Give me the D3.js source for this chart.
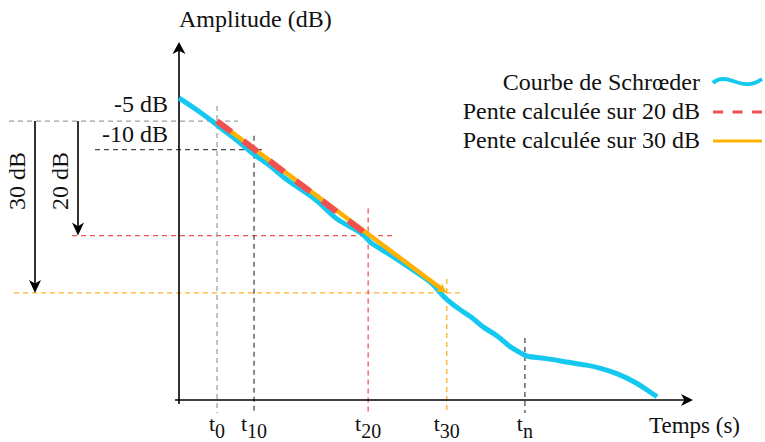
<!DOCTYPE html>
<html>
<head>
<meta charset="utf-8">
<script src="https://cdn.jsdelivr.net/npm/d3@7"></script>
<style>
  html, body { margin: 0; padding: 0; background: #fff; }
  svg { display: block; }
  text { font-family: "Liberation Serif", "DejaVu Serif", serif; }
</style>
</head>
<body>
<svg id="chart" width="765" height="442"></svg>
<script>
// Schroeder decay curve: time (arbitrary units) and level (dB)
const curveTime = [0, 4.1, 7.0, 8.6, 11.3, 14.4, 17.7, 20.2, 23.0, 26.1, 28.8, 30.7, 34.6, 36.4, 37.2, 39.1,
  41.1, 43.6, 46.3, 49.4, 50.8, 52.1, 54.7, 57.0, 59.1, 61.9, 64.4, 66.3, 67.5, 70.8, 76.1, 79.4, 81.9, 85.2,
  89.1, 91.6, 93.0];
const curveDb = [-1.0, -3.4, -5.4, -6.6, -8.3, -10.8, -12.7, -14.8, -16.5, -18.3, -20.5, -22.3, -24.0, -25.2,
  -26.3, -27.2, -28.4, -29.8, -31.5, -33.3, -35.0, -36.2, -38.0, -39.2, -41.1, -42.3, -44.6, -45.3, -46.2,
  -46.3, -47.2, -47.6, -48.1, -49.0, -50.7, -52.3, -53.1];

// Marked instants on the time axis
const tickSubs = ["0", "10", "20", "30", "n"];
const tickTimes = [7.4, 14.6, 36.8, 52.1, 67.3];

// Reference levels (dB)
const levelValues = [-5, -10, -25, -35];
const levelLabels = ["-5 dB", "-10 dB", "", ""];

// Regression slopes: start level/time, end level/time
const slope20 = { t: [7.4, 36.8], db: [-5, -25] };
const slope30 = { t: [7.4, 52.1], db: [-5, -35] };

// Span arrows on the left
const spanLabels = ["30 dB", "20 dB"];
const spanFrom = [-5, -5];
const spanTo = [-35, -25];

// Legend
const legendLabels = ["Courbe de Schrœder", "Pente calculée sur 20 dB", "Pente calculée sur 30 dB"];

const FONT = '"Liberation Serif", "DejaVu Serif", serif';

const COL = {
  cyan: "#14c8ef",
  red: "#f24f4f",
  orange: "#ffb000",
  grayLight: "#a0a0a0",
  grayDark: "#4a4a4a",
  redDash: "#f25555",
  orangeDash: "#ffb020"
};

const svg = d3.select("#chart");

const x = d3.scaleLinear().domain([0, 100]).range([179, 693]);
const y = d3.scaleLinear().domain([-53.7, 8.8]).range([400, 42]);

function label(sel) {
  return sel.attr("font-family", FONT).attr("fill", "#111");
}

// Stealth-style arrowhead, tip at (px,py), pointing along angle (radians)
function arrowHead(px, py, angle, len, half, color) {
  const p = `M0,0 L${-len},${-half} L${-len * 0.72},0 L${-len},${half} Z`;
  svg.append("path")
    .attr("d", p)
    .attr("fill", color)
    .attr("transform", `translate(${px},${py}) rotate(${angle * 180 / Math.PI})`);
}

// ---- Dashed guide lines ----
const levelStyle = [
  { c: COL.grayLight, x0: 9, x1: x(tickTimes[0]) + 21 },
  { c: COL.grayDark, x0: 95, x1: x(tickTimes[1]) + 9 },
  { c: COL.redDash, x0: 72, x1: x(tickTimes[2]) + 25 },
  { c: COL.orangeDash, x0: 14, x1: x(tickTimes[3]) + 13 }
];
const guides = svg.append("g").attr("stroke-width", 1.3).attr("stroke-dasharray", "5,4").attr("fill", "none");
levelValues.forEach((v, i) => {
  guides.append("line")
    .attr("x1", levelStyle[i].x0).attr("x2", levelStyle[i].x1)
    .attr("y1", y(v)).attr("y2", y(v))
    .attr("stroke", levelStyle[i].c);
});
const tickStyle = [
  { c: COL.grayLight, top: y(-5) - 15 },
  { c: COL.grayDark, top: y(-10) - 14 },
  { c: COL.redDash, top: y(-25) - 27 },
  { c: COL.orangeDash, top: y(-35) - 14 },
  { c: COL.grayDark, top: y(-45.3) - 14 }
];
tickTimes.forEach((t, i) => {
  guides.append("line")
    .attr("x1", x(t)).attr("x2", x(t))
    .attr("y1", tickStyle[i].top).attr("y2", 413)
    .attr("stroke", tickStyle[i].c);
});

// ---- Axes ----
svg.append("line")
  .attr("x1", x(0) - 4).attr("x2", x(100) - 4)
  .attr("y1", y.range()[0]).attr("y2", y.range()[0])
  .attr("stroke", "#000").attr("stroke-width", 1.6);
arrowHead(x(100), y.range()[0], 0, 12, 6, "#000");

svg.append("line")
  .attr("x1", x(0)).attr("x2", x(0))
  .attr("y1", y.range()[0] + 4).attr("y2", y.range()[1] + 4)
  .attr("stroke", "#000").attr("stroke-width", 1.6);
arrowHead(x(0), y.range()[1], -Math.PI / 2, 12, 6.5, "#000");

label(svg.append("text"))
  .attr("x", x(0)).attr("y", 27)
  .attr("font-size", 24)
  .text("Amplitude (dB)");

label(svg.append("text"))
  .attr("x", 649).attr("y", 433)
  .attr("font-size", 23)
  .text("Temps (s)");

// Level labels
const labelBase = [112, 142];
levelLabels.forEach((s, i) => {
  if (!s) return;
  label(svg.append("text"))
    .attr("x", 168).attr("y", labelBase[i])
    .attr("text-anchor", "end")
    .attr("font-size", 24)
    .text(s);
});

// Time labels with subscripts
tickTimes.forEach((t, i) => {
  const txt = label(svg.append("text"))
    .attr("x", x(t)).attr("y", 431)
    .attr("text-anchor", "middle");
  txt.append("tspan").attr("font-size", 22).text("t");
  txt.append("tspan").attr("font-size", 20).attr("dy", 7).text(tickSubs[i]);
});

// ---- Span arrows ----
const spanX = [35, 78];
spanLabels.forEach((s, i) => {
  svg.append("line")
    .attr("x1", spanX[i]).attr("x2", spanX[i])
    .attr("y1", y(spanFrom[i])).attr("y2", y(spanTo[i]) - 6)
    .attr("stroke", "#000").attr("stroke-width", 1.6);
  arrowHead(spanX[i], y(spanTo[i]), Math.PI / 2, 13, 6, "#000");
  label(svg.append("text"))
    .attr("transform", `translate(${spanX[i] - 10},181) rotate(-90)`)
    .attr("text-anchor", "middle")
    .attr("font-size", 24)
    .text(s);
});

// ---- Schroeder curve ----
const pts = curveTime.map((t, i) => [x(t), y(curveDb[i])]);
svg.append("path")
  .attr("d", d3.line().curve(d3.curveBasis)(pts))
  .attr("fill", "none")
  .attr("stroke", COL.cyan)
  .attr("stroke-width", 5)
  .attr("stroke-linejoin", "round");

// ---- Slopes ----
const s30a = [x(slope30.t[0]), y(slope30.db[0])];
const s30b = [x(slope30.t[1]), y(slope30.db[1])];
const ang30 = Math.atan2(s30b[1] - s30a[1], s30b[0] - s30a[0]);
svg.append("line")
  .attr("x1", s30a[0]).attr("y1", s30a[1])
  .attr("x2", s30b[0] - 6 * Math.cos(ang30)).attr("y2", s30b[1] - 6 * Math.sin(ang30))
  .attr("stroke", COL.orange).attr("stroke-width", 4.5);
arrowHead(s30b[0], s30b[1], ang30, 10, 5, COL.orange);

svg.append("line")
  .attr("x1", x(slope20.t[0])).attr("y1", y(slope20.db[0]))
  .attr("x2", x(slope20.t[1])).attr("y2", y(slope20.db[1]))
  .attr("stroke", COL.red).attr("stroke-width", 6)
  .attr("stroke-dasharray", "18,15");

// ---- Legend ----
const legBase = [90, 119, 148];
legendLabels.forEach((s, i) => {
  label(svg.append("text"))
    .attr("x", 700).attr("y", legBase[i])
    .attr("text-anchor", "end")
    .attr("font-size", 24)
    .text(s);
});
const lx = 713, lw = 49;
svg.append("path")
  .attr("transform", `translate(${lx},${legBase[0] - 8})`)
  .attr("d", "M0,1 C5,-4 12,-4 20,-1 S38,5 49,-3")
  .attr("fill", "none").attr("stroke", COL.cyan).attr("stroke-width", 4);
svg.append("line")
  .attr("x1", lx).attr("x2", lx + lw)
  .attr("y1", legBase[1] - 7).attr("y2", legBase[1] - 7)
  .attr("stroke", COL.red).attr("stroke-width", 3)
  .attr("stroke-dasharray", "10,9.5");
svg.append("line")
  .attr("x1", lx).attr("x2", lx + lw)
  .attr("y1", legBase[2] - 7).attr("y2", legBase[2] - 7)
  .attr("stroke", COL.orange).attr("stroke-width", 3);
</script>
</body>
</html>
